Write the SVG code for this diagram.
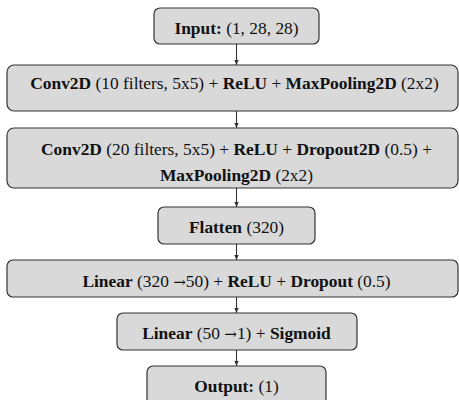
<svg xmlns="http://www.w3.org/2000/svg" width="459" height="400" viewBox="0 0 459 400">
<style>
.box{fill:#d9d9d9;stroke:#333;stroke-width:1.2}
.t{font-family:'Liberation Serif','Times New Roman',serif;font-size:17.4px;fill:#111;text-anchor:middle}
.b{font-weight:bold}
.ar{font-family:'DejaVu Serif',serif;font-size:15px}
.conn{stroke:#333;stroke-width:1.1;fill:none;marker-end:url(#ah)}
</style>
<defs>
<marker id="ah" markerWidth="6" markerHeight="6" refX="5" refY="3" orient="auto" markerUnits="userSpaceOnUse">
<path d="M0,0.8 L5,3 L0,5.2 Z" fill="#333"/>
</marker>
</defs>
<rect width="459" height="400" fill="#fff"/>
<g id="connectors">
<line class="conn" x1="236.5" y1="44" x2="236.5" y2="65"/>
<line class="conn" x1="236.5" y1="111" x2="236.5" y2="128"/>
<line class="conn" x1="236.5" y1="188" x2="236.5" y2="207"/>
<line class="conn" x1="236.5" y1="244" x2="236.5" y2="260"/>
<line class="conn" x1="236.5" y1="297" x2="236.5" y2="313"/>
<line class="conn" x1="236.5" y1="350" x2="236.5" y2="366"/>
</g>
<g id="input">
<rect class="box" x="154" y="8" width="165" height="36" rx="6"/>
<text class="t" x="236.5" y="34"><tspan class="b">Input:</tspan> (1, 28, 28)</text>
</g>
<g id="conv1">
<rect class="box" x="7" y="65" width="451" height="46" rx="7"/>
<text class="t" x="234.5" y="88.5"><tspan class="b">Conv2D</tspan> (10 filters, 5x5) + <tspan class="b">ReLU</tspan> + <tspan class="b">MaxPooling2D</tspan> (2x2)</text>
</g>
<g id="conv2">
<rect class="box" x="7" y="128" width="451" height="60" rx="7"/>
<text class="t" x="236.5" y="154.5"><tspan class="b">Conv2D</tspan> (20 filters, 5x5) + <tspan class="b">ReLU</tspan> + <tspan class="b">Dropout2D</tspan> (0.5) +</text>
<text class="t" x="236.5" y="181"><tspan class="b">MaxPooling2D</tspan> (2x2)</text>
</g>
<g id="flatten">
<rect class="box" x="158" y="207" width="157" height="37" rx="6"/>
<text class="t" x="236.5" y="232.5"><tspan class="b">Flatten</tspan> (320)</text>
</g>
<g id="linear1">
<rect class="box" x="7" y="260" width="451" height="37" rx="6"/>
<text class="t" x="236.5" y="286.5"><tspan class="b">Linear</tspan> (320 <tspan class="ar">→</tspan>50) + <tspan class="b">ReLU</tspan> + <tspan class="b">Dropout</tspan> (0.5)</text>
</g>
<g id="linear2">
<rect class="box" x="117" y="313" width="240" height="37" rx="6"/>
<text class="t" x="236.5" y="339"><tspan class="b">Linear</tspan> (50 <tspan class="ar">→</tspan>1) + <tspan class="b">Sigmoid</tspan></text>
</g>
<g id="output">
<rect class="box" x="147" y="366" width="179" height="40" rx="6"/>
<text class="t" x="236.5" y="392"><tspan class="b">Output:</tspan> (1)</text>
</g>
</svg>
